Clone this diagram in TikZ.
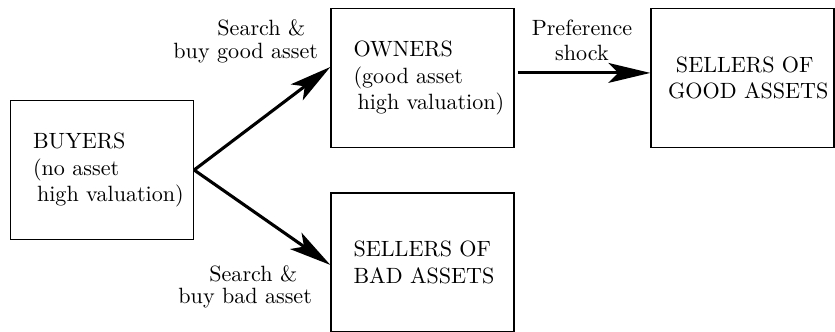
\documentclass[tikz,border=0pt]{standalone}
\usetikzlibrary{arrows.meta}
\begin{document}
\begin{tikzpicture}[x=0.4525pt, y=-0.4525pt,
  statebox/.style={draw, line width=0.6pt, minimum width=82.8pt, minimum height=62.9pt,
    inner xsep=0pt, inner ysep=0pt, align=left},
  flow/.style={line width=1.4pt, -{Stealth[length=19pt, width=9pt, inset=4.5pt]}},
  note/.style={inner sep=0pt}]
  \useasboundingbox (0,0) rectangle (835,331);

  % agent states (each line kept whole in an \mbox)
  \node[statebox, text width=62.4pt] (buy) at (102,170)
    {\mbox{BUYERS}\\\mbox{(no asset}\\\mbox{\hspace*{1.8pt}high valuation)}};
  \node[statebox, text width=62.4pt] (own) at (422.5,78)
    {\mbox{OWNERS}\\\mbox{(good asset}\\\mbox{\hspace*{1.8pt}high valuation)}};
  \node[statebox, text width=67.4pt] (good) at (742.5,78)
    {\mbox{\hspace*{3.6pt}SELLERS OF}\\\mbox{GOOD ASSETS}};
  \node[statebox, text width=62.4pt] (bad) at (422.5,262.5)
    {\mbox{SELLERS OF}\\\mbox{BAD ASSETS}};

  % transitions
  \draw[flow] (buy.east) -- ([yshift=5pt]own.west);
  \draw[flow] (buy.east) -- ([yshift=-1.1pt]bad.west);
  \draw[flow] ([xshift=1.4pt,yshift=2.3pt]own.east) -- ([yshift=2.3pt]good.west);

  % transition labels
  \node[note, anchor=north west, align=left] (lgood) at (173,19)
    {\hspace*{19.9pt}Search \&\\[-1.4pt]buy good asset};
  \node[note, anchor=north west, align=left] (lbad) at (178,265)
    {\hspace*{14pt}Search \&\\[-2pt]buy bad asset};
  \node[note, anchor=north, align=center] (lshock) at (582,19.5)
    {Preference\\[-0.7pt]shock};
\end{tikzpicture}
\end{document}
